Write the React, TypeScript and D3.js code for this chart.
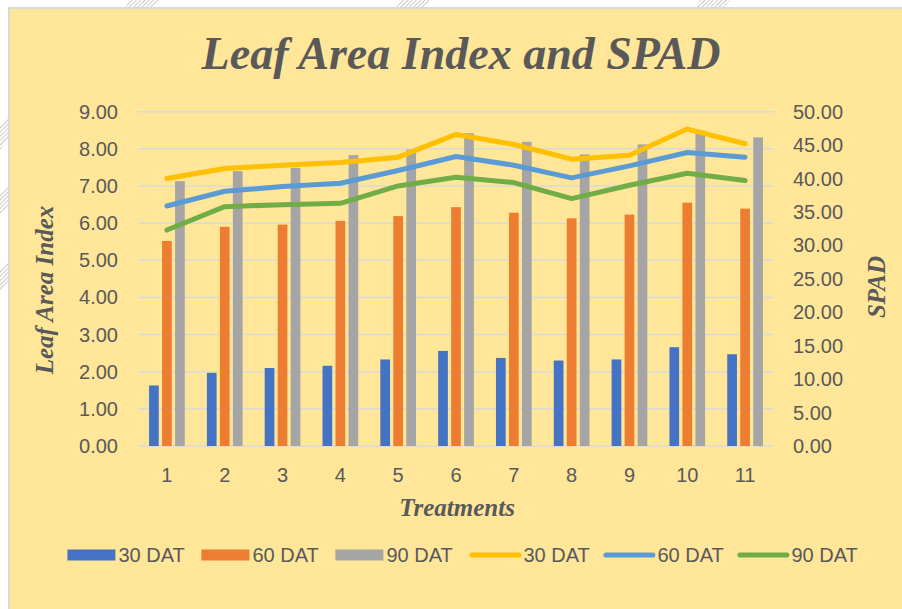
import React from "react";
import * as d3 from "d3";

// treatments on the x axis
const treatments = ["1", "2", "3", "4", "5", "6", "7", "8", "9", "10", "11"];

// Leaf Area Index (left axis, bars)
const lai30 = [1.63, 1.97, 2.1, 2.16, 2.33, 2.56, 2.37, 2.3, 2.33, 2.66, 2.47];
const lai60 = [5.52, 5.9, 5.96, 6.06, 6.19, 6.43, 6.28, 6.13, 6.23, 6.55, 6.39];
const lai90 = [7.13, 7.4, 7.49, 7.83, 7.98, 8.42, 8.19, 7.85, 8.12, 8.49, 8.31];

// SPAD (right axis, lines)
const spad30 = [40.0, 41.5, 42.0, 42.4, 43.2, 46.6, 45.1, 42.9, 43.5, 47.4, 45.2];
const spad60 = [35.9, 38.1, 38.8, 39.3, 41.2, 43.3, 42.0, 40.1, 41.9, 43.9, 43.2];
const spad90 = [32.3, 35.8, 36.1, 36.3, 38.9, 40.2, 39.4, 37.0, 39.0, 40.8, 39.7];

const leftTicks = [0, 1, 2, 3, 4, 5, 6, 7, 8, 9];
const rightTicks = [0, 5, 10, 15, 20, 25, 30, 35, 40, 45, 50];

const barSeries = [
  { name: "30 DAT", values: lai30, color: "#4472C4" },
  { name: "60 DAT", values: lai60, color: "#ED7D31" },
  { name: "90 DAT", values: lai90, color: "#A5A5A5" },
];

const lineSeries = [
  { name: "30 DAT", values: spad30, color: "#FFC000" },
  { name: "60 DAT", values: spad60, color: "#5B9BD5" },
  { name: "90 DAT", values: spad90, color: "#70AD47" },
];

const W = 902;
const H = 609;
const plot = { left: 138, right: 774, top: 111.7, bottom: 446 };
const textColor = "#595959";
const sans = "'Liberation Sans', Arial, sans-serif";
const serif = "'Liberation Serif', 'Times New Roman', serif";

export default function App() {
  const x = d3
    .scaleBand<string>()
    .domain(treatments)
    .range([plot.left, plot.right])
    .padding(0);

  const inner = d3
    .scaleBand<string>()
    .domain(barSeries.map((s) => s.name))
    .range([-17.85, 17.85])
    .paddingInner(0.254)
    .paddingOuter(0);

  const yLeft = d3.scaleLinear().domain([0, 9]).range([plot.bottom, plot.top]);
  const yRight = d3.scaleLinear().domain([0, 50]).range([plot.bottom, plot.top]);

  const cx = (t: string) => (x(t) ?? 0) + x.bandwidth() / 2;

  const line = d3
    .line<number>()
    .x((_, i) => cx(treatments[i]))
    .y((d) => yRight(d));

  // legend: three bar swatches then three line swatches
  const legendItems = [
    ...barSeries.map((s) => ({ ...s, kind: "bar" })),
    ...lineSeries.map((s) => ({ ...s, kind: "line" })),
  ];
  const legendY = 555;

  return (
    <svg
      width={W}
      height={H}
      style={{ position: "absolute", left: 0, top: 0, display: "block" }}
    >
      <rect x={0} y={0} width={W} height={H} fill="#ffffff" />
      {/* faint watermark hatching outside the chart box */}
      <defs>
        <pattern id="hatch" width="3" height="3" patternUnits="userSpaceOnUse" patternTransform="rotate(45)">
          <line x1="0" y1="0" x2="0" y2="3" stroke="#b8b8b8" strokeWidth="1.5" />
        </pattern>
      </defs>
      <g fill="url(#hatch)">
        <polygon points="0,125 22,100 22,120 0,150" />
        <polygon points="0,195 22,170 22,190 0,215" />
        <polygon points="0,270 22,245 22,265 0,292" />
        <polygon points="130,0 160,0 150,12 122,12" />
        <polygon points="400,0 430,0 420,12 392,12" />
        <polygon points="700,0 730,0 720,12 692,12" />
      </g>
      {/* chart box */}
      <rect x={9} y={8} width={W} height={H} fill="#FFE699" stroke="#D9D9D9" strokeWidth={2} />

      {/* title */}
      <text
        x={461}
        y={69}
        textAnchor="middle"
        fontFamily={serif}
        fontWeight="bold"
        fontStyle="italic"
        fontSize={46}
        fill={textColor}
      >
        Leaf Area Index and SPAD
      </text>

      {/* gridlines */}
      {leftTicks.map((t) => (
        <line
          key={"g" + t}
          x1={plot.left}
          x2={plot.right}
          y1={yLeft(t)}
          y2={yLeft(t)}
          stroke="#D9D9D9"
          strokeWidth={1.5}
        />
      ))}

      {/* left axis labels */}
      {leftTicks.map((t) => (
        <text
          key={"l" + t}
          x={118}
          y={yLeft(t)}
          dy="0.35em"
          textAnchor="end"
          fontFamily={sans}
          fontSize={20}
          fill={textColor}
        >
          {t.toFixed(2)}
        </text>
      ))}

      {/* right axis labels */}
      {rightTicks.map((t) => (
        <text
          key={"r" + t}
          x={793}
          y={yRight(t)}
          dy="0.35em"
          textAnchor="start"
          fontFamily={sans}
          fontSize={20}
          fill={textColor}
        >
          {t.toFixed(2)}
        </text>
      ))}

      {/* x axis labels */}
      {treatments.map((t) => (
        <text
          key={"x" + t}
          x={cx(t)}
          y={482}
          textAnchor="middle"
          fontFamily={sans}
          fontSize={20}
          fill={textColor}
        >
          {t}
        </text>
      ))}

      {/* bars */}
      {barSeries.map((s) => (
        <g key={s.name} fill={s.color}>
          {s.values.map((v, i) => (
            <rect
              key={i}
              x={cx(treatments[i]) + (inner(s.name) ?? 0)}
              y={yLeft(v)}
              width={inner.bandwidth()}
              height={yLeft(0) - yLeft(v)}
            />
          ))}
        </g>
      ))}

      {/* lines */}
      {lineSeries.map((s) => (
        <path
          key={s.name}
          d={line(s.values) ?? ""}
          fill="none"
          stroke={s.color}
          strokeWidth={5}
          strokeLinecap="round"
          strokeLinejoin="round"
        />
      ))}

      {/* axis titles */}
      <text
        x={457}
        y={516}
        textAnchor="middle"
        fontFamily={serif}
        fontWeight="bold"
        fontStyle="italic"
        fontSize={25}
        fill={textColor}
      >
        Treatments
      </text>
      <text
        transform="translate(53,290) rotate(-90)"
        textAnchor="middle"
        fontFamily={serif}
        fontWeight="bold"
        fontStyle="italic"
        fontSize={25}
        fill={textColor}
      >
        Leaf Area Index
      </text>
      <text
        transform="translate(885,287) rotate(-90)"
        textAnchor="middle"
        fontFamily={serif}
        fontWeight="bold"
        fontStyle="italic"
        fontSize={25}
        fill={textColor}
      >
        SPAD
      </text>

      {/* legend */}
      {legendItems.map((d, i) => {
        const lx = 67.4 + i * 134;
        return (
          <g key={"lg" + i} transform={`translate(${lx},${legendY})`}>
            {d.kind === "bar" ? (
              <rect x={0} y={-5.5} width={48} height={11} fill={d.color} />
            ) : (
              <line
                x1={2.5}
                x2={49.5}
                y1={0}
                y2={0}
                stroke={d.color}
                strokeWidth={5}
                strokeLinecap="round"
              />
            )}
            <text
              x={d.kind === "bar" ? 51 : 54}
              y={0}
              dy="0.35em"
              fontFamily={sans}
              fontSize={20}
              fill={textColor}
            >
              {d.name}
            </text>
          </g>
        );
      })}
    </svg>
  );
}
